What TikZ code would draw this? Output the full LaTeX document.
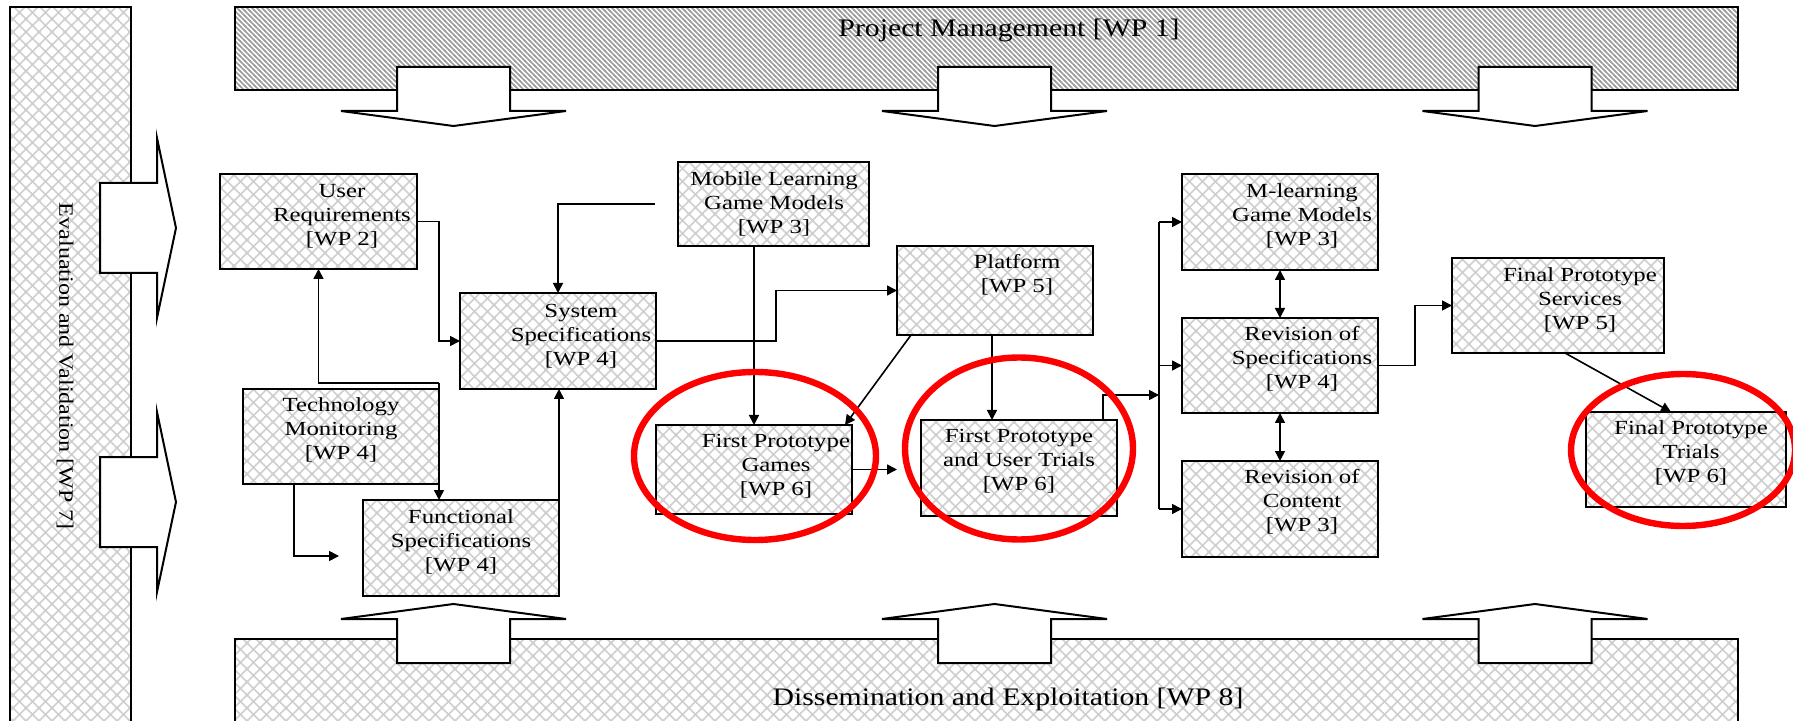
\documentclass[tikz,border=0pt]{standalone}
\usepackage{fontspec}
\setmainfont{Liberation Serif}
\newfontfamily\boxfont{Liberation Serif}[FakeStretch=1.24]
\newfontfamily\barfont{Liberation Serif}[FakeStretch=1.18]
\usetikzlibrary{arrows.meta,patterns,calc,fit}

% diagonal lattice used for the work-package boxes
\pgfdeclarepatternformonly{xhatch}{\pgfqpoint{-1pt}{-1pt}}{\pgfqpoint{7.5pt}{7.5pt}}{\pgfqpoint{6.5pt}{6.5pt}}{%
  \pgfsetlinewidth{0.75pt}%
  \pgfpathmoveto{\pgfqpoint{-0.5pt}{-0.5pt}}\pgfpathlineto{\pgfqpoint{7pt}{7pt}}%
  \pgfpathmoveto{\pgfqpoint{-0.5pt}{7pt}}\pgfpathlineto{\pgfqpoint{7pt}{-0.5pt}}%
  \pgfusepath{stroke}}
% falling stripes for the management band
\pgfdeclarepatternformonly{slant}{\pgfqpoint{-1pt}{-1pt}}{\pgfqpoint{3.5pt}{3.5pt}}{\pgfqpoint{2.5pt}{2.5pt}}{%
  \pgfsetlinewidth{0.75pt}%
  \pgfpathmoveto{\pgfqpoint{-0.5pt}{3pt}}\pgfpathlineto{\pgfqpoint{3pt}{-0.5pt}}%
  \pgfusepath{stroke}}

\begin{document}
\begin{tikzpicture}[x=0.5pt,y=-0.5pt,
  every node/.style={inner sep=0pt, outer sep=0pt},
  hatchbox/.style={draw, line width=1pt, pattern=xhatch, pattern color=black!19},
  lbl/.style={align=center, font=\boxfont\fontsize{10pt}{12pt}\selectfont},
  bartext/.style={font=\barfont\fontsize{12.6pt}{15pt}\selectfont},
  blockarrow/.style={draw, fill=white, line width=1pt, line join=miter},
  arr/.style={line width=0.8pt, -{Triangle[length=5pt,width=5pt]}},
  darr/.style={line width=0.8pt, {Triangle[length=5pt,width=5pt]}-{Triangle[length=5pt,width=5pt]}},
  plain/.style={line width=0.8pt},
  redring/.style={draw=red, line width=3.2pt}
]
\useasboundingbox (0,0) rectangle (1793,721);
\clip (0,0) rectangle (1793,721);

% surrounding bands
\node[hatchbox, fit={(10,7) (131,740)}] (ev) {};
\node[rotate=-90, font=\barfont\fontsize{10.2pt}{12pt}\selectfont] (ev-t) at (65,366) {Evaluation and Validation [WP 7]};
\node[draw, line width=1pt, pattern=slant, pattern color=black!38, fit={(235,7) (1738,90)}] (pm) {};
\node[bartext, anchor=base] (pm-t) at (1009,37) {Project Management [WP 1]};
\node[hatchbox, fit={(235,639) (1738,740)}] (de) {};
\node[bartext, anchor=base] (de-t) at (1008,705) {Dissemination and Exploitation [WP 8]};

% block arrows from the bands
\foreach \c in {453.5,994.5,1535} {
  \draw[blockarrow] (\c-56.5,67) -- (\c-56.5,111) -- (\c-112.5,111) -- (\c,126)
    -- (\c+112.5,111) -- (\c+56.5,111) -- (\c+56.5,67) -- cycle;
  \draw[blockarrow] (\c-56.5,663) -- (\c-56.5,619) -- (\c-112.5,619) -- (\c,604)
    -- (\c+112.5,619) -- (\c+56.5,619) -- (\c+56.5,663) -- cycle;
}
\foreach \c in {228,502} {
  \draw[blockarrow] (100,\c-45) -- (157,\c-45) -- (157,\c-90) -- (176,\c)
    -- (157,\c+90) -- (157,\c+45) -- (100,\c+45) -- cycle;
}

% work packages
\node[hatchbox, fit={(220,174) (417,269)}] (ur) {};
\node[hatchbox, fit={(243,389) (439,484)}] (tm) {};
\node[hatchbox, fit={(363,500) (559,596)}] (fs) {};
\node[hatchbox, fit={(460,293) (656,389)}] (ss) {};
\node[hatchbox, fit={(678,162) (869,246)}] (mlgm) {};
\node[hatchbox, fit={(897,246) (1093,335)}] (pf) {};
\node[hatchbox, fit={(656,425) (852,514)}] (fpg) {};
\node[hatchbox, fit={(921,420) (1117,516)}] (fput) {};
\node[hatchbox, fit={(1182,174) (1378,270)}] (ml) {};
\node[hatchbox, fit={(1182,318) (1378,413)}] (ros) {};
\node[hatchbox, fit={(1182,461) (1378,557)}] (roc) {};
\node[hatchbox, fit={(1452,258) (1664,353)}] (fps) {};
\node[hatchbox, fit={(1586,412) (1786,507)}] (fpt) {};

\node[lbl] (ur-t) at (342,216) {User\\Requirements\\{[WP 2]}};
\node[lbl] (tm-t) at (341,430) {Technology\\Monitoring\\{[WP 4]}};
\node[lbl] (fs-t) at (461,542) {Functional\\Specifications\\{[WP 4]}};
\node[lbl] (ss-t) at (581,336) {System\\Specifications\\{[WP 4]}};
\node[lbl] (mlgm-t) at (774,204) {Mobile Learning\\Game Models\\{[WP 3]}};
\node[lbl] (pf-t) at (1017,275) {Platform\\{[WP 5]}};
\node[lbl] (fpg-t) at (776,466) {First Prototype\\Games\\{[WP 6]}};
\node[lbl] (fput-t) at (1019,461) {First Prototype\\and User Trials\\{[WP 6]}};
\node[lbl] (ml-t) at (1302,216) {M-learning\\Game Models\\{[WP 3]}};
\node[lbl] (ros-t) at (1302,359) {Revision of\\Specifications\\{[WP 4]}};
\node[lbl] (roc-t) at (1302,502) {Revision of\\Content\\{[WP 3]}};
\node[lbl] (fps-t) at (1580,300) {Final Prototype\\Services\\{[WP 5]}};
\node[lbl] (fpt-t) at (1691,453) {Final Prototype\\Trials\\{[WP 6]}};

% flows
\draw[arr] (ur.east) -- ++(22,0) |- (ss.west);
\coordinate (mlfree) at (655,204);
\draw[arr] (mlfree) -| (ss.north);
\draw[arr] (ss.east) -- ++(120,0) |- (pf.west);
\draw[arr] (mlgm.south -| fpg.north) -- (fpg.north);
\draw[arr] ($(pf.south west)+(14,0)$) -- ($(fpg.north east)+(-7,0)$);
\coordinate (fpgout) at (897,469.5);
\draw[arr] (fpg.east) -- (fpgout);
\coordinate (pfb) at ($(pf.south)+(-3,0)$);
\draw[arr] (pfb) -- (pfb |- fput.north);
\coordinate (fputo) at ($(fput.north east)+(-14,0)$);
\coordinate (bt) at ($(ml.west)+(-23,0)$);
\coordinate (bb) at ($(roc.west)+(-23,0)$);
\coordinate (bin) at ($(bt)+(0,173)$);
\draw[plain] (bt) -- (bb);
\draw[arr] (fputo) |- (bin);
\draw[arr] (bt) -- (ml.west);
\draw[arr] (bt |- ros.west) -- (ros.west);
\draw[arr] (bb) -- (roc.west);
\draw[darr] (ml.south) -- (ros.north);
\draw[darr] (ros.south) -- (roc.north);
\draw[arr] (ros.east) -- ++(37,0) |- (fps.west);
\draw[arr] ($(fps.south)+(7,0)$) -- ($(fpt.north)+(-15,0)$);
\coordinate (j1) at ($(tm.north east)+(0,-6)$);
\draw[arr] (j1) -| (ur.south);
\draw[arr] (j1) -- (j1 |- fs.north);
\coordinate (tmb) at ($(tm.south west)+(51,0)$);
\coordinate (fsin) at (339,556);
\draw[arr] (tmb) |- (fsin);
\draw[arr] (fs.north east) -- (fs.north east |- ss.south);

% highlighted trials
\draw[redring] (755,456) ellipse [x radius=121, y radius=84];
\draw[redring] (1019,448.5) ellipse [x radius=114, y radius=91];
\draw[redring] (1683,450) ellipse [x radius=112, y radius=76];
\end{tikzpicture}
\end{document}
